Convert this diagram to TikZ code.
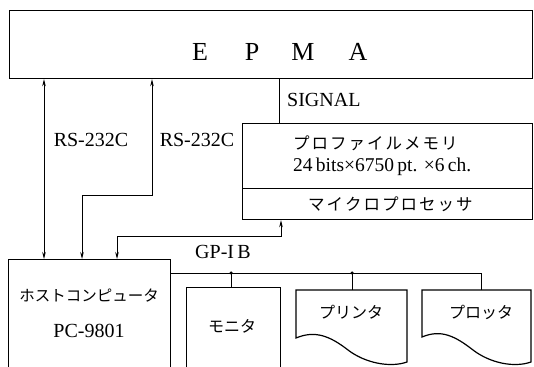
\documentclass[tikz,border=0pt]{standalone}
\usepackage{fontspec}
\setmainfont{Liberation Serif}
\newfontfamily\jp{Noto Sans CJK JP}
\usetikzlibrary{arrows.meta}
\tikzset{
  box/.style={draw, line width=1.2pt, inner sep=0pt, anchor=north west},
  shapeline/.style={line width=1.2pt},
  conn/.style={line width=0.8pt},
  bothtips/.style={conn, {Stealth[length=7pt,width=3.5pt]}-{Stealth[length=7pt,width=3.5pt]}},
  lat/.style={font=\fontsize{20}{22}\selectfont, inner sep=0pt},
  numtext/.style={font=\fontsize{19.5}{21}\selectfont, inner sep=0pt},
  big/.style={font=\fontsize{26}{28}\selectfont, inner sep=0pt},
  jpt/.style={font=\jp\fontsize{15.5}{17}\selectfont, inner sep=0pt},
  jpm/.style={font=\jp\fontsize{16}{18}\selectfont, inner sep=0pt},
  jpw/.style={font=\jp\fontsize{16.5}{18}\selectfont, inner sep=0pt},
  jdot/.style={circle, fill, inner sep=0pt, minimum size=3.5pt},
}
\newcommand{\jk}{\kern2pt}
\begin{document}
\begin{tikzpicture}[x=1pt,y=-1pt]
\useasboundingbox (0,0) rectangle (534,366);
\clip (0,0) rectangle (534,366);

% EPMA
\node[box, minimum width=523pt, minimum height=68pt] (epma) at (9,10) {};
\node[big] (lE) at (200,52) {E};
\node[big] (lP) at (252,52) {P};
\node[big] (lM) at (303,52) {M};
\node[big] (lA) at (358,52) {A};

% profile memory + microprocessor
\node[box, minimum width=290pt, minimum height=65pt] (prof) at (242,123) {};
\node[box, minimum width=290pt, minimum height=31pt] (micro) at (242,188) {};
\node[jpw, anchor=west] (profT) at (293,143) {プ\jk ロ\jk フ\jk ァ\jk イ\jk ル\jk メ\jk モ\jk リ};
\node[numtext, anchor=west] (profN) at (293,167) {24\,bits×6750\,pt. ×6\,ch.};
\node[jpw, anchor=west] (microT) at (308,204) {マ\jk イ\jk ク\jk ロ\jk プ\jk ロ\jk セ\jk ッ\jk サ};

% host
\node[box, minimum width=162pt, minimum height=130pt] (host) at (8,259) {};
\node[jpt] (hostT) at (89,296) {ホストコンピュータ};
\node[lat] (hostN) at (89,331) {PC-9801};

% monitor
\node[box, minimum width=94pt, minimum height=110pt] (mon) at (186,287) {};
\node[jpm] (monT) at (232,326) {モニタ};

% printer
\draw[shapeline] (296,338) -- (296,290) -- (407,290) -- (407,362)
  .. controls (390,368) and (365,363) .. (348,350)
  .. controls (330,336) and (315,330) .. (296,338) -- cycle;
\coordinate (prtTop) at (352,290);
\node[jpm] (prtT) at (351,312) {プリンタ};

% plotter
\draw[shapeline] (422,337) -- (422,290) -- (531,290) -- (531,362)
  .. controls (514,368) and (490,363) .. (473,350)
  .. controls (455,336) and (441,329) .. (422,337) -- cycle;
\coordinate (pltTop) at (481,290);
\node[jpm] (pltT) at (481,312) {プロッタ};

% helper coordinates
\coordinate (xa) at (44,0);
\coordinate (xb) at (152,0);
\coordinate (xc) at (82,0);
\coordinate (bendB) at (152,195);
\coordinate (bendC) at (82,195);
\coordinate (xs) at (279,0);
\coordinate (xg) at (117,0);
\coordinate (bendG) at (117,236);
\coordinate (bendH) at (281,236);
\coordinate (xh) at (281,0);
\coordinate (busY) at (0,273);
\coordinate (busEnd) at (481,273);
\coordinate (xm) at (231,0);
\coordinate (xp) at (352,0);

% RS-232C links
\draw[bothtips] (xa |- epma.south) -- (xa |- host.north);
\draw[bothtips] (xb |- epma.south) -- (bendB) -- (bendC) -- (xc |- host.north);
\node[lat] (rs1) at (91,140) {RS-232C};
\node[lat] (rs2) at (197,140) {RS-232C};

% SIGNAL
\draw[conn] (xs |- epma.south) -- (xs |- prof.north);
\node[lat, anchor=west] (sig) at (287,100) {SIGNAL};

% GP-IB
\draw[bothtips] (xg |- host.north) -- (bendG) -- (bendH) -- (xh |- micro.south);
\node[lat] (gpib) at (223,252) {GP-I\,B};

% bus
\draw[conn] (host.north east |- busY) -- (busEnd) -- (pltTop);
\draw[conn] (xm |- busY) -- (xm |- mon.north);
\draw[conn] (xp |- busY) -- (prtTop);
\node[jdot] (j1) at (xm |- busY) {};
\node[jdot] (j2) at (xp |- busY) {};
\end{tikzpicture}
\end{document}
